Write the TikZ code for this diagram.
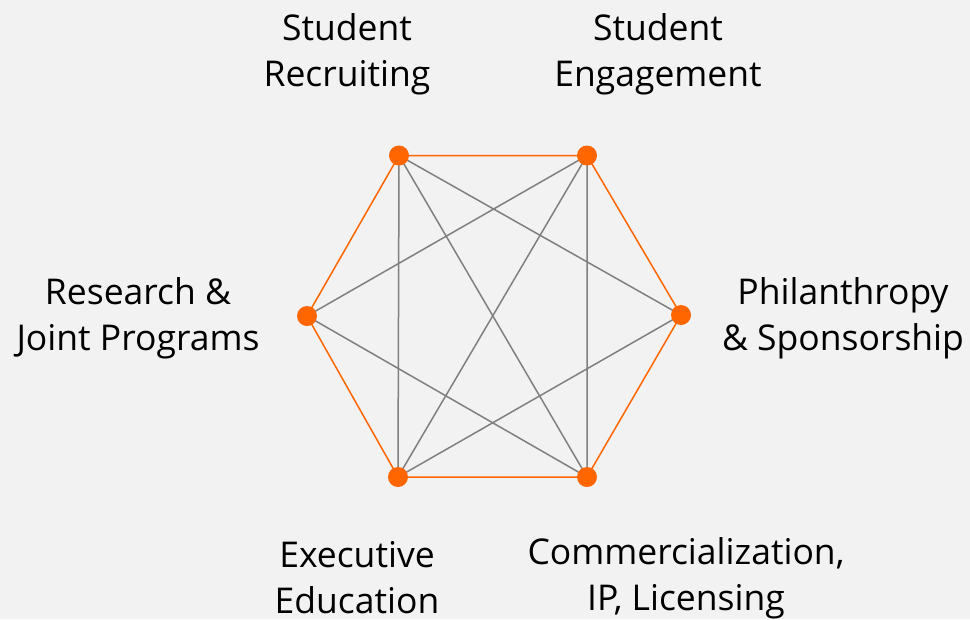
\documentclass[tikz,border=0pt]{standalone}
\usepackage{fontspec}
\setmainfont{Open Sans}
\definecolor{bg}{HTML}{F2F2F2}
\definecolor{orng}{HTML}{FF6600}
\definecolor{gry}{HTML}{808080}
\begin{document}
\begin{tikzpicture}[x=1pt,y=-1pt,
  dot/.style={circle,fill=orng,inner sep=0pt,minimum size=20pt},
  ring/.style={draw=orng,line width=1.5pt},
  cross/.style={draw=gry,line width=1.5pt},
  lbl/.style={align=center,inner sep=0pt,font=\fontsize{35.5}{46}\selectfont}]
\fill[bg] (0,0) rectangle (970,619);
\useasboundingbox (0,0) rectangle (970,619);
\coordinate (A) at (399,155.5);
\coordinate (B) at (587,155.5);
\coordinate (C) at (681,315);
\coordinate (D) at (587,477);
\coordinate (E) at (398,477);
\coordinate (F) at (307,316);
\draw[cross] (A)--(E) (A)--(D) (A)--(C) (B)--(F) (B)--(E) (B)--(D) (C)--(E) (F)--(D);
\draw[ring] (A)--(B)--(C)--(D)--(E)--(F)--cycle;
\foreach \p in {A,B,C,D,E,F} \node[dot] (n\p) at (\p) {};
\node[lbl] (sr) at (347,54) {Student\\Recruiting};
\node[lbl] (se) at (658,54) {Student\\Engagement};
\node[lbl] (rj) at (138,318) {Research \&\\Joint Programs};
\node[lbl] (ps) at (843,318) {Philanthropy\\\& Sponsorship};
\node[lbl] (ee) at (357,578) {Executive\\Education};
\node[lbl] (ci) at (686,578) {Commercialization,\\IP, Licensing};
\end{tikzpicture}
\end{document}
